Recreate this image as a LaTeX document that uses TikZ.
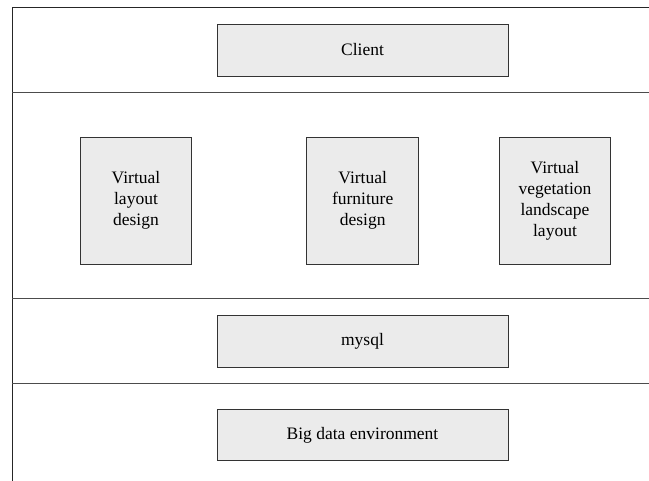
\documentclass[tikz,border=0pt]{standalone}
\usepackage{fontspec}
\setmainfont{Liberation Serif}
\begin{document}
\begin{tikzpicture}[x=1pt,y=-1pt,
  box/.style={draw=black!80,fill=black!8,line width=0.9pt,inner sep=0pt,align=center,
    font=\fontsize{17.5}{21}\selectfont},
  sep/.style={draw=black!70,line width=1pt}]
\useasboundingbox (0,0) rectangle (649,481);
\coordinate (tl) at (12,7.5);
\coordinate (tr) at (649,7.5);
\coordinate (bl) at (12,481);
\draw[sep,draw=black!85] (tr) -- (tl) -- (bl);
\foreach \y/\n in {93/a,298.3/b,383.7/c}{
  \coordinate (l\n) at (12,\y);
  \coordinate (r\n) at (649,\y);
  \draw[sep] (l\n) -- (r\n);
}
\node[box,minimum width=291pt,minimum height=52pt] (client) at (362.5,50) {Client};
\node[box,minimum width=111pt,minimum height=127pt] (layout) at (136,200.7) {Virtual\\layout\\design};
\node[box,minimum width=112pt,minimum height=127pt] (furn) at (362.7,200.7) {Virtual\\furniture\\design};
\node[box,minimum width=111pt,minimum height=127pt] (veg) at (555,200.7) {Virtual\\vegetation\\landscape\\layout};
\node[box,minimum width=291pt,minimum height=52pt] (mysql) at (362.5,341) {mysql};
\node[box,minimum width=291pt,minimum height=51pt] (big) at (362.5,435) {Big data environment};
\end{tikzpicture}
\end{document}
